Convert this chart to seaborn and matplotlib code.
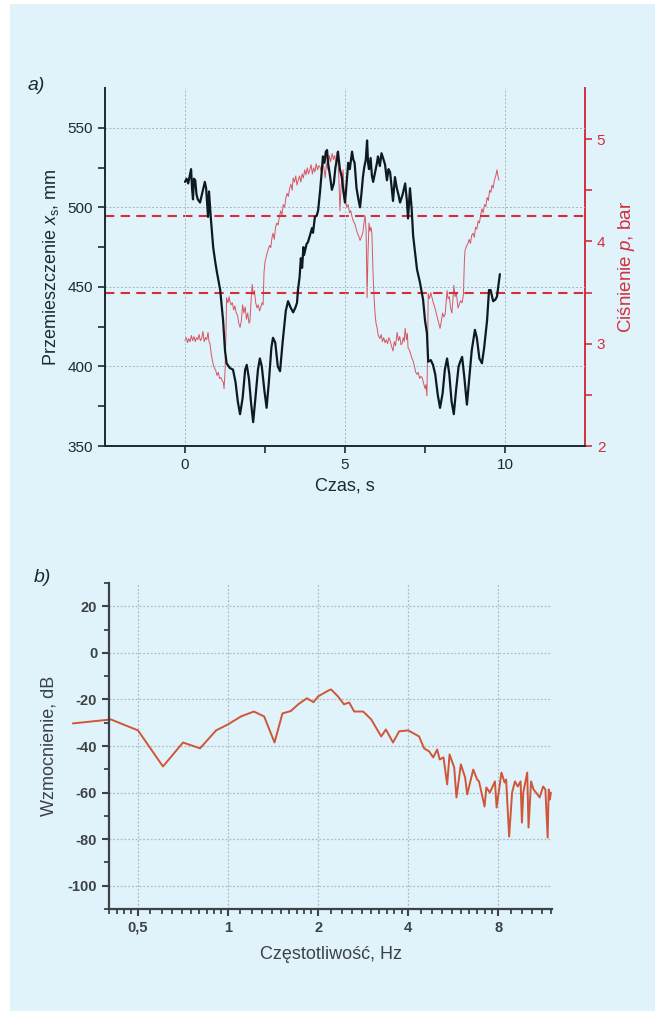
import numpy as np
import pandas as pd
import seaborn as sns
import matplotlib.pyplot as plt
from matplotlib.patches import Rectangle
from matplotlib.ticker import FixedLocator, NullFormatter

#Data
#a) displacement (black) and pressure (red) vs time
t_disp = [0.00, 0.05, 0.10, 0.15, 0.19, 0.22, 0.25, 0.28, 0.32, 0.36, 0.40, 0.47, 0.55, 0.62, 0.66,
          0.72, 0.75, 0.80, 0.88, 0.95, 1.00, 1.10, 1.19, 1.25, 1.30, 1.40, 1.50, 1.58, 1.65, 1.72,
          1.80, 1.88, 1.93, 2.00, 2.06, 2.13, 2.20, 2.28, 2.34, 2.40, 2.48, 2.55, 2.62, 2.70, 2.75,
          2.82, 2.90, 2.97, 3.05, 3.15, 3.22, 3.30, 3.38, 3.45, 3.50, 3.53, 3.58, 3.62, 3.66, 3.70,
          3.72, 3.80, 3.84, 3.90, 3.97, 4.00, 4.06, 4.12, 4.16, 4.22, 4.28, 4.31, 4.36, 4.40, 4.44,
          4.47, 4.53, 4.59, 4.65, 4.70, 4.75, 4.78, 4.84, 4.90, 4.95, 5.00, 5.05, 5.10, 5.15, 5.22,
          5.26, 5.30, 5.36, 5.42, 5.47, 5.52, 5.56, 5.60, 5.65, 5.69, 5.72, 5.75, 5.80, 5.84, 5.88,
          5.94, 6.00, 6.03, 6.09, 6.14, 6.19, 6.25, 6.31, 6.36, 6.41, 6.45, 6.50, 6.56, 6.62, 6.67,
          6.72, 6.80, 6.88, 6.93, 6.97, 7.03, 7.08, 7.13, 7.20, 7.25, 7.34, 7.44, 7.50, 7.56, 7.60,
          7.68, 7.75, 7.82, 7.90, 7.97, 8.05, 8.12, 8.19, 8.26, 8.33, 8.40, 8.47, 8.55, 8.60, 8.66,
          8.73, 8.81, 8.88, 8.96, 9.06, 9.12, 9.20, 9.28, 9.35, 9.44, 9.50, 9.55, 9.63, 9.70, 9.75,
          9.84]
disp_mm = [516, 518, 515, 520, 524, 512, 505, 518, 517, 508, 505, 503, 510, 516, 512,
           494, 510, 495, 475, 465, 459, 448, 429, 410, 402, 399, 398, 390, 378, 370,
           380, 398, 401, 392, 378, 365, 380, 398, 405, 400, 385, 374, 390, 412, 418,
           415, 400, 397, 415, 435, 441, 437, 434, 437, 440, 448, 456, 468, 462, 475,
           470, 477, 478, 482, 487, 484, 494, 495, 498, 510, 524, 532, 528, 535, 536,
           528, 520, 511, 515, 525, 530, 535, 524, 519, 510, 503, 515, 528, 524, 535,
           530, 528, 512, 505, 500, 510, 519, 525, 530, 542, 528, 524, 531, 520, 516,
           522, 528, 532, 526, 534, 531, 527, 517, 524, 522, 514, 504, 519, 512, 508,
           503, 508, 515, 505, 493, 512, 500, 482, 470, 461, 453, 442, 429, 421, 403,
           404, 401, 395, 382, 374, 383, 398, 405, 395, 378, 370, 385, 400, 403, 406,
           393, 376, 392, 410, 423, 418, 405, 402, 412, 429, 448, 448, 441, 442, 444,
           458]

t_pres = [0.00, 0.04, 0.08, 0.12, 0.16, 0.20, 0.24, 0.28, 0.32, 0.36, 0.40, 0.44, 0.48, 0.52, 0.56,
          0.60, 0.64, 0.68, 0.72, 0.75, 0.78, 0.82, 0.88, 0.92, 0.96, 1.00, 1.04, 1.08, 1.12, 1.16,
          1.20, 1.22, 1.25, 1.28, 1.30, 1.34, 1.38, 1.40, 1.44, 1.48, 1.52, 1.56, 1.60, 1.64, 1.68,
          1.72, 1.76, 1.80, 1.84, 1.88, 1.92, 1.96, 2.00, 2.03, 2.07, 2.10, 2.13, 2.17, 2.21, 2.25,
          2.29, 2.33, 2.37, 2.41, 2.44, 2.47, 2.50, 2.53, 2.56, 2.60, 2.64, 2.68, 2.72, 2.75, 2.79,
          2.83, 2.87, 2.91, 2.95, 2.99, 3.03, 3.07, 3.11, 3.15, 3.19, 3.23, 3.27, 3.31, 3.35, 3.38,
          3.42, 3.46, 3.50, 3.54, 3.58, 3.62, 3.66, 3.70, 3.74, 3.78, 3.82, 3.86, 3.90, 3.94, 3.98,
          4.02, 4.06, 4.10, 4.14, 4.18, 4.22, 4.26, 4.30, 4.34, 4.38, 4.42, 4.47, 4.51, 4.55, 4.60,
          4.64, 4.68, 4.72, 4.75, 4.78, 4.81, 4.84, 4.88, 4.91, 4.94, 4.97, 5.00, 5.03, 5.06, 5.10,
          5.14, 5.18, 5.22, 5.26, 5.31, 5.35, 5.39, 5.43, 5.47, 5.51, 5.56, 5.60, 5.63, 5.66, 5.69,
          5.72, 5.75, 5.78, 5.81, 5.84, 5.88, 5.91, 5.94, 5.97, 6.00, 6.04, 6.09, 6.13, 6.17, 6.21,
          6.25, 6.29, 6.33, 6.37, 6.41, 6.45, 6.50, 6.54, 6.58, 6.63, 6.67, 6.71, 6.75, 6.78, 6.82,
          6.85, 6.88, 6.92, 6.95, 6.97, 7.01, 7.05, 7.09, 7.13, 7.17, 7.21, 7.25, 7.29, 7.33, 7.37,
          7.41, 7.45, 7.50, 7.53, 7.56, 7.58, 7.60, 7.64, 7.68, 7.72, 7.76, 7.81, 7.85, 7.89, 7.93,
          7.97, 8.01, 8.05, 8.09, 8.13, 8.16, 8.19, 8.22, 8.26, 8.30, 8.34, 8.37, 8.40, 8.44, 8.48,
          8.53, 8.57, 8.61, 8.66, 8.70, 8.73, 8.75, 8.79, 8.84, 8.88, 8.92, 8.96, 9.00, 9.04, 9.08,
          9.12, 9.16, 9.20, 9.24, 9.28, 9.32, 9.36, 9.40, 9.44, 9.48, 9.52, 9.56, 9.59, 9.63, 9.67,
          9.71, 9.75, 9.78, 9.81]
pres_bar = [3.03, 3.06, 3.01, 3.05, 3.02, 3.08, 3.03, 3.07, 3.02, 3.06, 3.04, 3.09, 3.03, 3.05, 3.12,
            3.02, 3.06, 3.04, 3.11, 3.02, 3.00, 2.90, 2.80, 2.76, 2.74, 2.69, 2.72, 2.66, 2.67, 2.64,
            2.62, 2.56, 2.72, 3.10, 3.45, 3.40, 3.46, 3.42, 3.38, 3.40, 3.33, 3.37, 3.30, 3.28, 3.20,
            3.16, 3.22, 3.38, 3.30, 3.36, 3.24, 3.30, 3.20, 3.22, 3.45, 3.58, 3.48, 3.52, 3.40, 3.35,
            3.38, 3.32, 3.36, 3.40, 3.38, 3.70, 3.80, 3.84, 3.88, 3.92, 3.96, 3.94, 4.04, 4.08, 4.02,
            4.14, 4.18, 4.16, 4.24, 4.30, 4.26, 4.36, 4.33, 4.42, 4.47, 4.44, 4.52, 4.56, 4.50, 4.62,
            4.58, 4.64, 4.55, 4.60, 4.64, 4.58, 4.66, 4.62, 4.70, 4.65, 4.72, 4.66, 4.70, 4.75, 4.66,
            4.72, 4.68, 4.76, 4.70, 4.74, 4.73, 4.68, 4.78, 4.72, 4.62, 4.76, 4.70, 4.84, 4.78, 4.86,
            4.80, 4.84, 4.76, 4.87, 4.82, 4.60, 4.30, 4.55, 4.62, 4.70, 4.50, 4.42, 4.38, 4.33, 4.36,
            4.28, 4.30, 4.24, 4.20, 4.17, 4.12, 4.08, 4.05, 4.01, 4.04, 4.09, 4.20, 4.25, 4.10, 3.45,
            3.90, 4.18, 4.10, 4.14, 4.08, 3.65, 3.45, 3.29, 3.20, 3.16, 3.08, 3.05, 3.09, 3.02, 3.06,
            3.01, 3.04, 3.00, 3.06, 3.03, 2.98, 2.93, 3.02, 2.98, 3.11, 3.03, 3.07, 2.99, 3.00, 3.06,
            3.02, 3.15, 3.04, 3.10, 2.96, 2.94, 2.90, 2.86, 2.83, 2.78, 2.72, 2.70, 2.72, 2.66, 2.68,
            2.67, 2.62, 2.56, 2.60, 2.49, 2.90, 3.49, 3.44, 3.50, 3.45, 3.40, 3.35, 3.30, 3.25, 3.20,
            3.15, 3.22, 3.30, 3.26, 3.29, 3.40, 3.52, 3.44, 3.46, 3.35, 3.30, 3.42, 3.57, 3.46, 3.50,
            3.35, 3.38, 3.42, 3.40, 3.48, 3.80, 3.91, 3.95, 3.98, 4.02, 3.98, 4.06, 4.08, 4.04, 4.14,
            4.12, 4.20, 4.18, 4.26, 4.32, 4.28, 4.36, 4.34, 4.43, 4.40, 4.50, 4.48, 4.55, 4.52, 4.60,
            4.64, 4.70, 4.64, 4.60]

p_thresholds = [4.25, 3.5]

#b) gain vs frequency
freq_hz = [0.303, 0.406, 0.50, 0.606, 0.707, 0.806, 0.912, 1.0, 1.105, 1.22, 1.32, 1.43, 1.52, 1.62,
           1.72, 1.835, 1.93, 2.0, 2.17, 2.21, 2.33, 2.44, 2.54, 2.64, 2.83, 3.01, 3.25, 3.37, 3.56,
           3.73, 4.0, 4.35, 4.52, 4.7, 4.85, 5.0, 5.1, 5.25, 5.4, 5.5, 5.7, 5.8, 6.0, 6.2, 6.3, 6.6,
           6.8, 6.9, 7.2, 7.3, 7.5, 7.8, 7.9, 8.2, 8.4, 8.5, 8.7, 8.9, 9.1, 9.3, 9.5, 9.6, 9.7, 10.0,
           10.1, 10.3, 10.5, 10.7, 11.0, 11.3, 11.5, 11.7, 11.8, 11.9, 12.0]
gain_db = [-30.3, -28.6, -33.3, -48.8, -38.5, -41.0, -33.3, -30.7, -27.3, -25.2, -27.3, -38.5, -26.0,
           -25.0, -22.0, -19.5, -21.2, -18.7, -16.1, -15.7, -18.7, -22.1, -21.3, -25.2, -25.2, -28.6,
           -35.9, -32.9, -38.5, -33.7, -33.3, -35.9, -41.0, -42.3, -44.9, -41.5, -45.8, -44.9, -56.5,
           -43.6, -49.2, -62.1, -47.9, -53.5, -60.8, -50.1, -54.4, -55.2, -66.0, -57.8, -60.0, -55.2,
           -66.4, -51.4, -55.7, -54.4, -78.9, -60.0, -55.2, -57.4, -55.2, -72.9, -60.0, -51.4, -75.0,
           -55.2, -58.7, -60.0, -62.1, -57.4, -58.7, -79.3, -58.7, -63.0, -60.0]

df_a1 = pd.DataFrame({'t': t_disp, 'x': disp_mm})
df_a2 = pd.DataFrame({'t': t_pres, 'p': pres_bar})
df_b = pd.DataFrame({'f': freq_hz, 'g': gain_db})

sns.set_style("ticks")
plt.rcParams['font.family'] = ['Liberation Sans', 'DejaVu Sans']
plt.rcParams['mathtext.fontset'] = 'custom'
plt.rcParams['mathtext.rm'] = 'Liberation Sans'
plt.rcParams['mathtext.it'] = 'Liberation Sans:italic'
plt.rcParams['axes.unicode_minus'] = False

W, H = 655, 1011
BG = '#e0f3fa'
DARK = '#1b2a30'
RED = '#d42e3c'

fig = plt.figure(figsize=(W / 100, H / 100), dpi=100)
fig.patch.set_facecolor('white')
fig.patches.append(Rectangle((10 / W, 0), 1 - 10 / W, 1 - 4 / H, transform=fig.transFigure,
                             facecolor=BG, edgecolor='none', zorder=-10))

def box(l, t, r, b):
    return [l / W, 1 - b / H, (r - l) / W, (b - t) / H]

#panel a)
ax = fig.add_axes(box(105, 88, 585, 446))
ax.patch.set_alpha(0)
axr = ax.twinx()
axr.patch.set_alpha(0)

sns.lineplot(data=df_a2, x='t', y='p', ax=axr, color=RED, lw=0.7, alpha=0.8,
             sort=False, estimator=None)
for p in p_thresholds:
    axr.axhline(p, color=RED, lw=1.5, ls=(0, (4.5, 3)), zorder=3)
sns.lineplot(data=df_a1, x='t', y='x', ax=ax, color='#0e1a1f', lw=1.6,
             sort=False, estimator=None)
ax.set_zorder(axr.get_zorder() + 1)

ax.set_xlim(-2.5, 12.5)
ax.set_ylim(350, 575)
axr.set_ylim(2, 5.5)
ax.set_xticks([0, 5, 10])
ax.set_xticks([2.5, 7.5], minor=True)
ax.set_yticks([350, 400, 450, 500, 550])
ax.set_yticks([375, 425, 475, 525], minor=True)
axr.set_yticks([2, 3, 4, 5])
axr.set_yticks([2.5, 3.5, 4.5], minor=True)

ax.grid(True, which='major', color='#a9b4b8', ls=(0, (2, 2)), lw=0.7)
for s in ['top', 'right']:
    ax.spines[s].set_visible(False)
for s in ['top', 'left', 'bottom']:
    axr.spines[s].set_visible(False)
for s in ['left', 'bottom']:
    ax.spines[s].set_color(DARK)
    ax.spines[s].set_linewidth(1.4)
axr.spines['right'].set_color(RED)
axr.spines['right'].set_linewidth(1.4)

ax.tick_params(which='both', direction='out', length=5, width=1.2, color=DARK,
               labelcolor=DARK, labelsize=11)
axr.tick_params(which='both', direction='out', length=5, width=1.2, color=RED,
                labelcolor=RED, labelsize=11)

ax.set_xlabel("Czas, s", fontsize=13, color=DARK, labelpad=4)
ax.set_ylabel(r"Przemieszczenie $\mathit{x}_\mathrm{s}$, mm", fontsize=13, color=DARK, labelpad=5)
axr.set_ylabel(r"Ciśnienie $\mathit{p}$, bar", fontsize=13.5, color=RED, labelpad=8)
fig.text(36 / W, 1 - 85 / H, "a)", fontsize=14, style='italic', color=DARK,
         ha='center', va='center')

#panel b)
GRAY = '#3c4246'
ax2 = fig.add_axes(box(109, 583, 552, 909))
ax2.patch.set_alpha(0)
sns.lineplot(data=df_b, x='f', y='g', ax=ax2, color='#cf5638', lw=1.4,
             sort=False, estimator=None)
ax2.lines[-1].set_clip_on(False)

ax2.set_xscale('log')
ax2.set_xlim(0.4, 12.1)
ax2.set_ylim(-110, 30)
ax2.set_xticks([0.5, 1, 2, 4, 8])
ax2.set_xticklabels(["0,5", "1", "2", "4", "8"])
minor_x = [b * (1 + k / 10) for b in [0.25, 0.5, 1, 2, 4, 8] for k in range(1, 10)]
minor_x = [m for m in minor_x if 0.4 <= m <= 12.1 and m not in (0.5, 1, 2, 4, 8)]
ax2.xaxis.set_minor_locator(FixedLocator(minor_x))
ax2.xaxis.set_minor_formatter(NullFormatter())
ax2.set_yticks([-100, -80, -60, -40, -20, 0, 20])
ax2.set_yticks([-110, -90, -70, -50, -30, -10, 10, 30], minor=True)

ax2.grid(True, which='major', color='#b2bcc0', ls=(0, (1.5, 1.5)), lw=0.9)
for s in ['top', 'right']:
    ax2.spines[s].set_visible(False)
for s in ['left', 'bottom']:
    ax2.spines[s].set_color(GRAY)
    ax2.spines[s].set_linewidth(1.6)
ax2.tick_params(which='major', direction='out', length=5, width=1.5, color=GRAY,
                labelcolor=GRAY, labelsize=10.5)
ax2.tick_params(which='minor', direction='out', length=3.5, width=1.3, color=GRAY)
for lab in ax2.get_xticklabels() + ax2.get_yticklabels():
    lab.set_fontweight('bold')

ax2.set_xlabel("Częstotliwość, Hz", fontsize=13, color=GRAY, labelpad=8)
ax2.set_ylabel("Wzmocnienie, dB", fontsize=13, color=GRAY, labelpad=7)
fig.text(42 / W, 1 - 578 / H, "b)", fontsize=14, style='italic', color=DARK,
         ha='center', va='center')

plt.savefig("out.png", dpi=100)
